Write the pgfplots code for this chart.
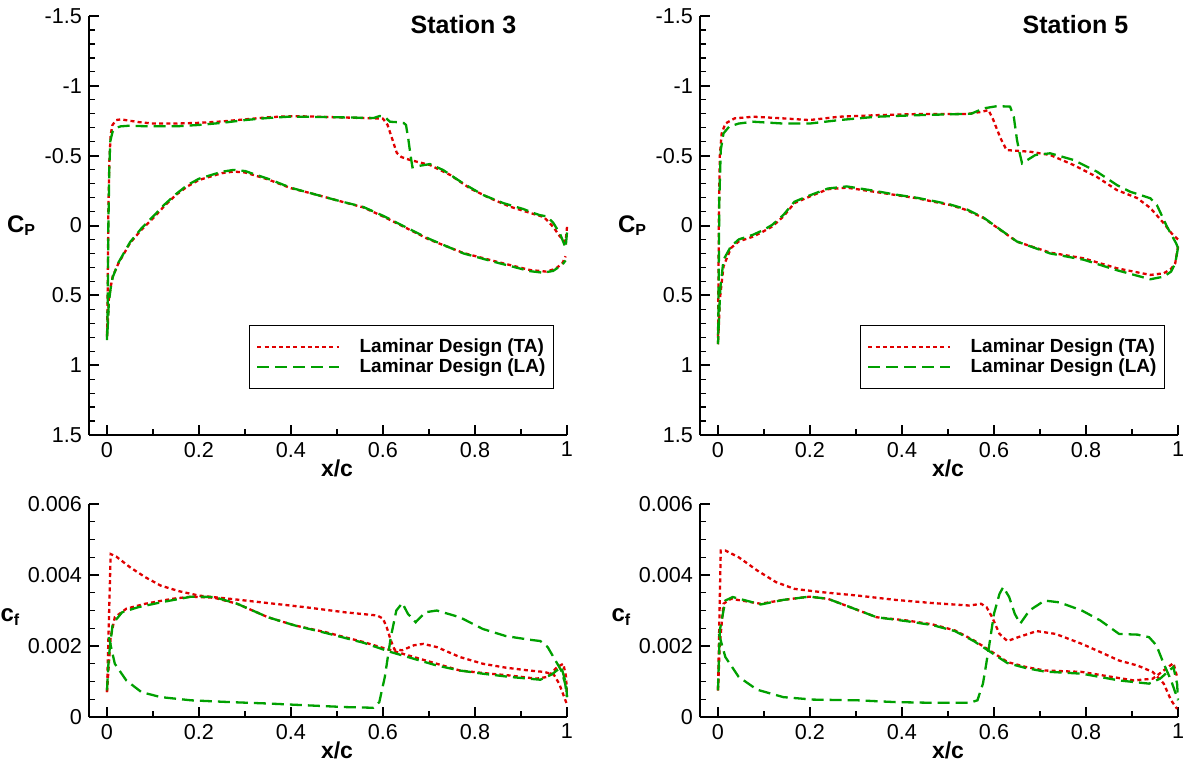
\documentclass[border=0pt]{standalone}
\usepackage{fontspec}
\setmainfont{Liberation Sans}
\usepackage{pgfplots}
\pgfplotsset{compat=1.18}
\definecolor{tared}{HTML}{E00000}
\definecolor{lagreen}{HTML}{00A000}
\tikzset{
  ta/.style={color=tared, line width=1.15pt, dash pattern=on 2pt off 1.6pt},
  la/.style={color=lagreen, line width=1.15pt, dash pattern=on 6pt off 3pt},
}
\pgfplotsset{
  panel/.style={
    scale only axis, width=239pt,
    xmin=-0.0391, xmax=1,
    axis x line=bottom, axis y line=left,
    axis line style={-, line width=1pt},
    xtick={0,0.2,0.4,0.6,0.8,1}, xticklabels={0,0.2,0.4,0.6,0.8,1},
    minor x tick num=1,
    tick align=inside,
    major tick length=5pt, minor tick length=3pt,
    major tick style={black, line width=1pt},
    minor tick style={black, line width=0.6pt},
    tick label style={font=\fontsize{10.8}{12}\selectfont},
    xlabel={x/c},
    every axis x label/.style={at={(xticklabel cs:0.5188)}, anchor=north, inner sep=0pt, yshift=2.5pt,
      font=\fontsize{11.5}{13}\selectfont\bfseries},
    every axis y label/.style={at={(yticklabel cs:0.5)}, anchor=east, inner sep=0.8pt,
      font=\fontsize{12}{14}\selectfont\bfseries},
    clip=false,
  },
  cppanel/.style={panel, height=209.5pt,
    y dir=reverse, ymin=-1.5, ymax=1.5,
    ytick={-1.5,-1,-0.5,0,0.5,1,1.5}, yticklabels={-1.5,-1,-0.5,0,0.5,1,1.5},
    minor y tick num=4,
    ylabel={C\textsubscript{P}},
    legend style={at={(axis cs:0.972,1.17)}, anchor=south east, draw=black, line width=0.7pt,
      font=\fontsize{9.5}{11}\selectfont\bfseries, inner xsep=3.5pt, inner ysep=6pt,
      row sep=0.5pt, cells={anchor=west}, nodes={inner sep=0.5pt},
      /tikz/every odd column/.append style={column sep=9pt}},
    legend image code/.code={\draw[##1] (0pt,0pt) -- (41pt,0pt);},
  },
  cfpanel/.style={panel, height=106.5pt,
    ymin=0, ymax=0.006, scaled y ticks=false,
    ytick={0,0.002,0.004,0.006}, yticklabels={0,0.002,0.004,0.006},
    minor y tick num=3,
    ylabel={c\textsubscript{f}},
    every axis y label/.append style={at={(yticklabel cs:0.47)}, inner sep=0.3pt},
  },
}
\begin{document}
\begin{tikzpicture}
\path[use as bounding box] (0,0) rectangle (592pt,381pt);

% ---------------- Cp, station 3
\begin{axis}[cppanel, at={(44.5pt,163.5pt)}, anchor=south west]
\addplot[ta] table {
1.0 0.01
0.997 0.12
0.985 0.08
0.97 0.01
0.95 -0.06
0.92 -0.09
0.876 -0.135
0.833 -0.195
0.789 -0.266
0.746 -0.362
0.702 -0.433
0.659 -0.469
0.64 -0.49
0.63 -0.52
0.62 -0.62
0.61 -0.72
0.6 -0.765
0.55 -0.77
0.5 -0.775
0.45 -0.78
0.4 -0.783
0.35 -0.775
0.3 -0.76
0.25 -0.745
0.2 -0.735
0.15 -0.73
0.1 -0.73
0.07 -0.74
0.05 -0.75
0.03 -0.76
0.02 -0.755
0.012 -0.72
0.008 -0.65
0.005 -0.45
0.003 -0.1
0.002 0.3
0.001 0.6
0.0 0.8
0.002 0.7
0.004 0.53
0.008 0.44
0.0125 0.364
0.025 0.27
0.05 0.126
0.075 0.03
0.1 -0.052
0.125 -0.14
0.15 -0.219
0.175 -0.28
0.2 -0.326
0.25 -0.375
0.275 -0.386
0.3 -0.38
0.35 -0.33
0.4 -0.267
0.45 -0.225
0.5 -0.18
0.557 -0.13
0.6 -0.065
0.63 -0.016
0.7 0.1
0.775 0.197
0.847 0.259
0.92 0.319
0.955 0.33
0.975 0.31
0.99 0.27
0.997 0.22
};
\addplot[la] table {
1.0 0.05
0.997 0.16
0.985 0.06
0.97 -0.02
0.956 -0.065
0.94 -0.075
0.927 -0.09
0.905 -0.118
0.862 -0.16
0.818 -0.218
0.775 -0.3
0.731 -0.397
0.702 -0.44
0.677 -0.426
0.664 -0.417
0.66 -0.5
0.655 -0.62
0.65 -0.72
0.645 -0.734
0.63 -0.74
0.615 -0.743
0.605 -0.775
0.593 -0.784
0.58 -0.77
0.5 -0.775
0.4 -0.78
0.35 -0.77
0.3 -0.755
0.25 -0.735
0.2 -0.72
0.15 -0.71
0.1 -0.71
0.07 -0.712
0.05 -0.715
0.03 -0.71
0.02 -0.7
0.012 -0.67
0.007 -0.6
0.005 -0.4
0.003 0.0
0.002 0.4
0.001 0.7
0.0 0.82
0.002 0.7
0.004 0.55
0.008 0.45
0.0125 0.37
0.025 0.265
0.05 0.12
0.075 0.02
0.1 -0.064
0.125 -0.15
0.15 -0.225
0.175 -0.29
0.2 -0.335
0.25 -0.385
0.275 -0.398
0.3 -0.39
0.35 -0.335
0.4 -0.27
0.45 -0.225
0.5 -0.18
0.557 -0.133
0.6 -0.07
0.63 -0.02
0.7 0.095
0.775 0.2
0.847 0.265
0.92 0.327
0.948 0.338
0.97 0.325
0.99 0.28
0.997 0.25
};
\legend{Laminar Design (TA),Laminar Design (LA)}
\node[font=\fontsize{12.5}{14}\selectfont\bfseries] at (axis cs:0.775,-1.44) {Station 3};
\end{axis}

% ---------------- Cp, station 5
\begin{axis}[cppanel, at={(350pt,163.5pt)}, anchor=south west]
\addplot[ta] table {
1.0 0.1
0.987 0.06
0.969 -0.016
0.94 -0.125
0.911 -0.197
0.867 -0.254
0.824 -0.347
0.773 -0.433
0.722 -0.505
0.679 -0.528
0.65 -0.535
0.628 -0.54
0.625 -0.555
0.615 -0.62
0.607 -0.684
0.598 -0.76
0.588 -0.827
0.575 -0.815
0.541 -0.798
0.433 -0.798
0.345 -0.79
0.264 -0.779
0.199 -0.755
0.142 -0.767
0.077 -0.779
0.036 -0.767
0.016 -0.73
0.008 -0.66
0.004 -0.5
0.002 -0.1
0.001 0.4
0.0 0.85
0.002 0.7
0.004 0.53
0.012 0.293
0.028 0.162
0.045 0.114
0.077 0.079
0.1 0.04
0.118 0.007
0.142 -0.064
0.166 -0.16
0.199 -0.207
0.239 -0.26
0.28 -0.271
0.337 -0.243
0.385 -0.219
0.433 -0.195
0.469 -0.17
0.505 -0.147
0.541 -0.11
0.578 -0.052
0.614 0.032
0.65 0.116
0.722 0.194
0.795 0.235
0.867 0.306
0.94 0.354
0.969 0.342
0.985 0.31
0.994 0.27
1.0 0.15
};
\addplot[la] table {
1.0 0.16
0.996 0.128
0.976 0.008
0.954 -0.147
0.94 -0.195
0.896 -0.242
0.867 -0.29
0.824 -0.385
0.773 -0.469
0.722 -0.517
0.69 -0.505
0.661 -0.445
0.655 -0.53
0.65 -0.612
0.643 -0.779
0.635 -0.851
0.607 -0.855
0.578 -0.839
0.55 -0.8
0.433 -0.79
0.345 -0.779
0.264 -0.755
0.199 -0.73
0.142 -0.73
0.077 -0.743
0.045 -0.73
0.024 -0.707
0.012 -0.66
0.006 -0.54
0.003 -0.2
0.002 0.2
0.001 0.6
0.0 0.85
0.002 0.68
0.005 0.45
0.012 0.245
0.028 0.15
0.045 0.1
0.077 0.065
0.1 0.03
0.118 -0.005
0.142 -0.075
0.166 -0.17
0.199 -0.215
0.239 -0.265
0.28 -0.28
0.337 -0.25
0.385 -0.222
0.433 -0.198
0.469 -0.175
0.505 -0.15
0.541 -0.115
0.578 -0.055
0.614 0.03
0.65 0.115
0.722 0.2
0.795 0.245
0.867 0.32
0.94 0.385
0.969 0.366
0.985 0.33
0.994 0.27
1.0 0.16
};
\legend{Laminar Design (TA),Laminar Design (LA)}
\node[font=\fontsize{12.5}{14}\selectfont\bfseries] at (axis cs:0.777,-1.44) {Station 5};
\end{axis}

% ---------------- cf, station 3
\begin{axis}[cfpanel, at={(44.5pt,22.5pt)}, anchor=south west]
\addplot[ta] table {
0.0 0.0007
0.008 0.00459
0.02 0.00452
0.05 0.00422
0.083 0.00394
0.117 0.0037
0.158 0.00354
0.2 0.00342
0.267 0.00333
0.35 0.00321
0.433 0.00309
0.517 0.00295
0.5875 0.00286
0.6 0.00277
0.608 0.00253
0.617 0.00216
0.625 0.0019
0.642 0.00188
0.667 0.00202
0.6875 0.00206
0.717 0.00197
0.767 0.00169
0.817 0.0015
0.867 0.00139
0.917 0.00131
0.95 0.00127
0.971 0.0012
0.983 0.00094
1.0 0.00035
};
\addplot[ta] table {
0.0 0.0007
0.008 0.00225
0.017 0.00281
0.042 0.00305
0.083 0.00319
0.142 0.00333
0.183 0.00339
0.233 0.00336
0.283 0.00319
0.35 0.00281
0.408 0.00258
0.475 0.00239
0.558 0.00211
0.617 0.00188
0.667 0.00169
0.717 0.0015
0.767 0.00131
0.817 0.00124
0.875 0.00117
0.933 0.00108
0.958 0.00113
0.979 0.00141
0.992 0.0015
0.998 0.00113
1.0 0.0006
};
\addplot[la] table {
0.0 0.00075
0.004 0.0017
0.0125 0.00263
0.033 0.00295
0.067 0.00309
0.117 0.00323
0.183 0.00339
0.233 0.00338
0.283 0.00319
0.35 0.00281
0.408 0.00258
0.475 0.00237
0.558 0.00209
0.617 0.00183
0.667 0.00164
0.717 0.00145
0.767 0.00131
0.817 0.00122
0.875 0.00113
0.942 0.00105
0.967 0.0012
0.9875 0.00141
0.998 0.00094
1.0 0.00056
};
\addplot[la] table {
0.004 0.00225
0.017 0.0015
0.042 0.00103
0.075 0.0007
0.117 0.00056
0.183 0.00047
0.267 0.00042
0.35 0.00038
0.433 0.00033
0.517 0.00028
0.579 0.00026
0.592 0.00042
0.604 0.00113
0.617 0.00225
0.629 0.003
0.642 0.00321
0.654 0.00291
0.671 0.00267
0.692 0.00295
0.717 0.003
0.767 0.00281
0.817 0.00248
0.867 0.00228
0.917 0.00218
0.942 0.00214
0.958 0.00197
0.975 0.00159
0.9875 0.00131
0.996 0.00094
1.0 0.00056
};
\end{axis}

% ---------------- cf, station 5
\begin{axis}[cfpanel, at={(350pt,22.5pt)}, anchor=south west]
\addplot[ta] table {
0.0 0.00075
0.006 0.00469
0.016 0.00469
0.045 0.0045
0.085 0.00413
0.126 0.0038
0.166 0.00361
0.223 0.00352
0.304 0.00342
0.385 0.0033
0.466 0.00321
0.547 0.00314
0.572 0.00319
0.584 0.00309
0.596 0.00281
0.612 0.00234
0.629 0.00214
0.653 0.00225
0.693 0.00242
0.734 0.00234
0.791 0.00206
0.831 0.00183
0.872 0.00159
0.912 0.00145
0.945 0.00127
0.969 0.00094
0.985 0.00047
0.998 0.00023
};
\addplot[ta] table {
0.0 0.00075
0.004 0.00206
0.012 0.00319
0.028 0.00333
0.061 0.00326
0.093 0.00319
0.142 0.0033
0.199 0.00339
0.239 0.00333
0.288 0.00309
0.345 0.00281
0.41 0.00272
0.466 0.00261
0.515 0.00244
0.556 0.00216
0.596 0.00183
0.629 0.00155
0.669 0.00141
0.71 0.00131
0.791 0.00127
0.856 0.00113
0.904 0.00103
0.945 0.00108
0.969 0.00131
0.99 0.00152
0.998 0.00113
};
\addplot[la] table {
0.0 0.00075
0.004 0.00244
0.016 0.00328
0.032 0.00338
0.061 0.00328
0.093 0.00317
0.142 0.0033
0.199 0.00339
0.239 0.00333
0.288 0.00309
0.345 0.00281
0.41 0.0027
0.466 0.00259
0.515 0.00242
0.556 0.00214
0.596 0.0018
0.629 0.00152
0.669 0.00138
0.71 0.00128
0.791 0.00122
0.872 0.00103
0.937 0.00094
0.961 0.00108
0.99 0.00141
0.998 0.00094
1.0 0.0005
};
\addplot[la] table {
0.002 0.00234
0.016 0.00169
0.045 0.00113
0.085 0.00077
0.142 0.00056
0.207 0.00049
0.304 0.00047
0.385 0.00042
0.466 0.0004
0.547 0.0004
0.564 0.00047
0.576 0.00094
0.588 0.00188
0.6 0.00291
0.612 0.00347
0.62 0.00366
0.633 0.00338
0.645 0.00291
0.657 0.00263
0.677 0.003
0.71 0.00328
0.742 0.00323
0.791 0.003
0.831 0.00272
0.872 0.00234
0.912 0.00232
0.937 0.00225
0.953 0.00202
0.969 0.0015
0.985 0.00103
1.0 0.00047
};
\end{axis}
\end{tikzpicture}
\end{document}
